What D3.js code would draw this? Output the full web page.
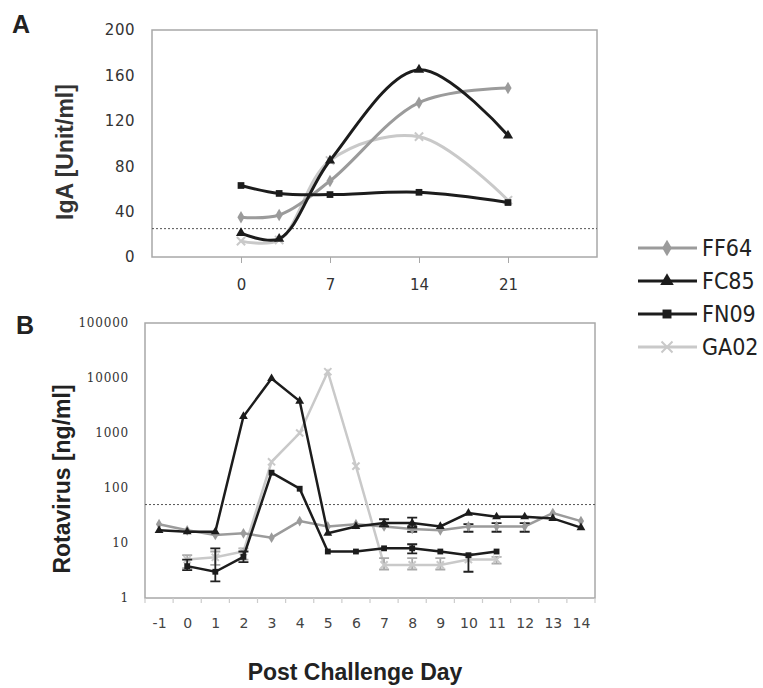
<!DOCTYPE html>
<html><head><meta charset="utf-8">
<script src="https://cdn.jsdelivr.net/npm/d3@7"></script>
<style>body{margin:0;background:#fff}</style>
</head><body><svg id="c" width="763" height="688"></svg>
<script>
// ---------- data ----------
const seriesNames = ["FF64", "FC85", "FN09", "GA02"];
const seriesColors = ["#9b9b9b", "#1c1c1c", "#1c1c1c", "#c9c9c9"];
const seriesSymbols = ["diamond", "triangle", "square", "x"];

// Panel A: IgA
const daysA = [0, 3, 7, 14, 21];
const igaFF64 = [35, 37, 67, 136, 149];
const igaFC85 = [21, 16, 85, 165, 107];
const igaFN09 = [63, 56, 55, 57, 48];
const igaGA02 = [14, 15, 85, 106, 50];
const xTicksA = [0, 7, 14, 21];
const yTicksA = [0, 40, 80, 120, 160, 200];
const thresholdA = 25;

// Panel B: Rotavirus
const daysB = [-1, 0, 1, 2, 3, 4, 5, 6, 7, 8, 9, 10, 11, 12, 13, 14];
const rvFF64 = [22, 17, 14, 15, 12.5, 25, 20, 22, 20, 18, 17, 20, 20, 20, 35, 25];
const rvFC85 = [17, 16, 16, 2000, 9800, 3800, 15, 20, 23, 23, 20, 35, 30, 30, 28, 19];
const rvFN09 = [null, 3.8, 3, 5.6, 190, 97, 7, 7, 8, 8, 7, 6, 7, null, null, null];
const rvGA02 = [null, 5, 5.5, 7, 300, 1000, 13000, 250, 4, 4, 4, 5, 5, null, null, null];
// error bars (low / high), null = none
const errLoFF64 = [null, null, null, null, null, null, null, null, null, 16, null, 16, 16, 16, null, null];
const errHiFF64 = [null, null, null, null, null, null, null, null, null, 20, null, 22, 23, 23, null, null];
const errLoFC85 = [null, null, null, null, null, null, null, null, 20, 19, null, null, null, null, null, null];
const errHiFC85 = [null, null, null, null, null, null, null, null, 27, 29, null, null, null, null, null, null];
const errLoFN09 = [null, 3.2, 2, 4.5, null, null, null, null, null, 6.5, null, 3, null, null, null, null];
const errHiFN09 = [null, 5, 8, 7, null, null, null, null, null, 9.5, null, 6.2, null, null, null, null];
const errLoGA02 = [null, 3.5, 4, 5, null, null, null, null, 3.3, 3.3, 3.3, null, 4.2, null, null, null];
const errHiGA02 = [null, 6, 7, 8, null, null, null, null, 5.3, 5.3, 5.3, null, 5.6, null, null, null];
const yTicksB = [1, 10, 100, 1000, 10000, 100000];
const thresholdB = 50;

const seriesA = [igaFF64, igaFC85, igaFN09, igaGA02];
const seriesB = [rvFF64, rvFC85, rvFN09, rvGA02];
const errLoB = [errLoFF64, errLoFC85, errLoFN09, errLoGA02];
const errHiB = [errHiFF64, errHiFC85, errHiFN09, errHiGA02];

// ---------- drawing ----------
const svg = d3.select("#c");
const frameColor = "#a8a8a8";
const tickFont = "'DejaVu Sans', Verdana, sans-serif";
const titleFont = "'Liberation Sans', Arial, sans-serif";

function marker(g, type, x, y, size, color) {
  if (type === "x") {
    const s = size * 0.55;
    g.append("path").attr("d", `M${x-s},${y-s}L${x+s},${y+s}M${x-s},${y+s}L${x+s},${y-s}`)
      .attr("stroke", color).attr("stroke-width", 2).attr("fill", "none");
    return;
  }
  const t = type === "diamond" ? d3.symbolDiamond : type === "triangle" ? d3.symbolTriangle : d3.symbolSquare;
  g.append("path").attr("d", d3.symbol().type(t).size(size * size * 0.8)())
    .attr("transform", `translate(${x},${y})`).attr("fill", color);
}

// ===== Panel A =====
const xA = d3.scaleLinear().domain([-7, 28]).range([152, 597]);
const yA = d3.scaleLinear().domain([0, 200]).range([257, 30]);
const gA = svg.append("g");

gA.append("rect").attr("x", xA.range()[0]).attr("y", yA.range()[1])
  .attr("width", xA.range()[1] - xA.range()[0]).attr("height", yA.range()[0] - yA.range()[1])
  .attr("fill", "none").attr("stroke", frameColor).attr("stroke-width", 1.5);

const axA = gA.append("g").attr("transform", `translate(0,${yA.range()[0]})`)
  .call(d3.axisBottom(xA).tickValues(xTicksA).tickSize(6).tickPadding(16));
axA.select(".domain").remove();
axA.selectAll("line").attr("stroke", frameColor);
axA.selectAll("text").attr("font-family", tickFont).attr("font-size", 15).attr("fill", "#333");

const ayA = gA.append("g").attr("transform", `translate(${xA.range()[0]},0)`)
  .call(d3.axisLeft(yA).tickValues(yTicksA).tickSize(0).tickPadding(17));
ayA.select(".domain").remove();
ayA.selectAll("text").attr("font-family", tickFont).attr("font-size", 15).attr("letter-spacing", 0.5).attr("fill", "#333");

gA.append("line").attr("x1", xA.range()[0]).attr("x2", xA.range()[1])
  .attr("y1", yA(thresholdA)).attr("y2", yA(thresholdA))
  .attr("stroke", "#555").attr("stroke-width", 1).attr("stroke-dasharray", "2,2");

const lineA = d3.line().x((d, i) => xA(daysA[i])).y(d => yA(d)).curve(d3.curveCatmullRom.alpha(0.5));
[3, 0, 2, 1].forEach(k => {
  gA.append("path").attr("d", lineA(seriesA[k])).attr("fill", "none")
    .attr("stroke", seriesColors[k]).attr("stroke-width", 3);
  seriesA[k].forEach((v, i) => marker(gA, seriesSymbols[k], xA(daysA[i]), yA(v), 7.5, seriesColors[k]));
});

svg.append("text").attr("x", 12).attr("y", 33).text("A")
  .attr("font-family", titleFont).attr("font-weight", "bold").attr("font-size", 25).attr("fill", "#222");
svg.append("text").attr("transform", "translate(73,152) rotate(-90)").attr("text-anchor", "middle")
  .text("IgA [Unit/ml]").attr("font-family", titleFont)
  .attr("font-weight", "bold").attr("font-size", 23).attr("fill", "#333");

// ===== Panel B =====
const xB = d3.scalePoint().domain(daysB).range([145, 595]).padding(0.5);
const yB = d3.scaleLog().domain([1, 100000]).range([598, 323]);
const gB = svg.append("g");

gB.append("rect").attr("x", xB.range()[0]).attr("y", yB.range()[1])
  .attr("width", xB.range()[1] - xB.range()[0]).attr("height", yB.range()[0] - yB.range()[1])
  .attr("fill", "none").attr("stroke", frameColor).attr("stroke-width", 1.5);

const axB = gB.append("g").attr("transform", `translate(0,${yB.range()[0]})`)
  .call(d3.axisBottom(xB).tickSize(0).tickPadding(20));
axB.select(".domain").remove();
axB.selectAll("text").attr("font-family", tickFont).attr("font-size", 14).attr("fill", "#444")
  .text(d => String(d));
// category boundary ticks
const step = xB.step();
daysB.concat([null]).forEach((d, i) => {
  const x = i < daysB.length ? xB(d) - step / 2 : xB(daysB[daysB.length - 1]) + step / 2;
  gB.append("line").attr("x1", x).attr("x2", x).attr("y1", yB.range()[0]).attr("y2", yB.range()[0] + 5)
    .attr("stroke", "#ccc").attr("stroke-width", 1.2);
});

const ayB = gB.append("g").attr("transform", `translate(${xB.range()[0]},0)`)
  .call(d3.axisLeft(yB).tickValues(yTicksB).tickFormat(d3.format("d")).tickSize(0).tickPadding(16));
ayB.select(".domain").remove();
ayB.selectAll("text").attr("font-family", "'DejaVu Serif', serif").attr("font-size", 12)
  .attr("letter-spacing", 0.8).attr("fill", "#333");

gB.append("line").attr("x1", xB.range()[0]).attr("x2", xB.range()[1])
  .attr("y1", yB(thresholdB)).attr("y2", yB(thresholdB))
  .attr("stroke", "#555").attr("stroke-width", 1).attr("stroke-dasharray", "2,2");

const lineB = d3.line().defined(d => d != null).x((d, i) => xB(daysB[i])).y(d => yB(d));
[3, 0, 2, 1].forEach(k => {
  gB.append("path").attr("d", lineB(seriesB[k])).attr("fill", "none")
    .attr("stroke", seriesColors[k]).attr("stroke-width", 2.5);
  seriesB[k].forEach((v, i) => {
    if (v == null) return;
    const lo = errLoB[k][i], hi = errHiB[k][i];
    const x = xB(daysB[i]);
    if (lo != null && hi != null) {
      const ec = k === 3 ? "#aaa" : "#222";
      gB.append("path").attr("d", `M${x},${yB(lo)}V${yB(hi)}M${x-5},${yB(lo)}H${x+5}M${x-5},${yB(hi)}H${x+5}`)
        .attr("stroke", ec).attr("stroke-width", 1.8).attr("fill", "none");
    }
    marker(gB, seriesSymbols[k], x, yB(v), 6.5, seriesColors[k]);
  });
});

svg.append("text").attr("x", 16).attr("y", 334).text("B")
  .attr("font-family", titleFont).attr("font-weight", "bold").attr("font-size", 25).attr("fill", "#222");
svg.append("text").attr("transform", "translate(70,479) rotate(-90)").attr("text-anchor", "middle")
  .text("Rotavirus [ng/ml]").attr("font-family", titleFont)
  .attr("font-weight", "bold").attr("font-size", 23).attr("fill", "#222");
svg.append("text").attr("x", 355).attr("y", 680).attr("text-anchor", "middle")
  .text("Post Challenge Day").attr("font-family", titleFont)
  .attr("font-weight", "bold").attr("font-size", 23).attr("fill", "#222");

// ===== Legend =====
const legY = [248, 281, 314, 347];
const gL = svg.append("g");
seriesNames.forEach((name, k) => {
  const y = legY[k];
  gL.append("line").attr("x1", 638).attr("x2", 697).attr("y1", y).attr("y2", y)
    .attr("stroke", seriesColors[k]).attr("stroke-width", 3);
  marker(gL, seriesSymbols[k], 667, y, 10, seriesColors[k]);
  gL.append("text").attr("x", 702).attr("y", y + 8).text(name)
    .attr("font-family", "'Liberation Sans Narrow', 'DejaVu Sans Condensed', sans-serif")
    .attr("font-size", 23).attr("fill", "#222");
});
</script></body></html>
